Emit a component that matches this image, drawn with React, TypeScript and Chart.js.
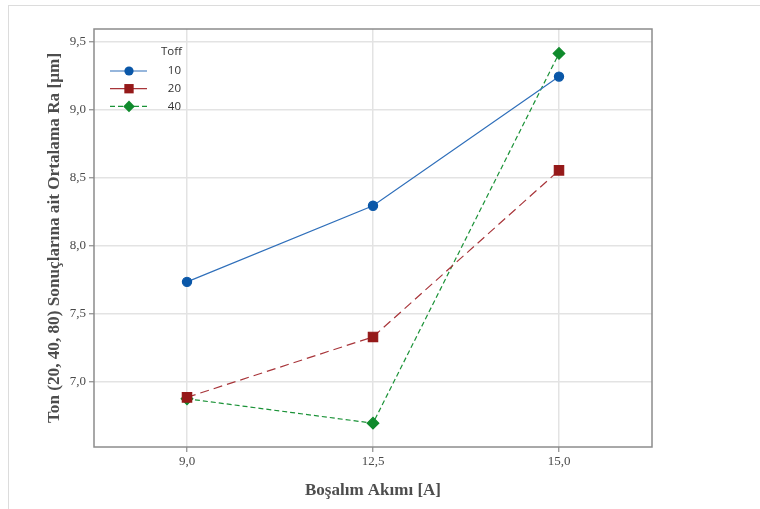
import React, { useEffect, useRef } from 'react';
import { Chart, registerables } from 'chart.js';

Chart.register(...registerables);

const categories = ['9,0', '12,5', '15,0'];
const seriesNames = ['10', '20', '40'];
const toff10 = [7.735, 8.295, 9.245];
const toff20 = [6.885, 7.33, 8.555];
const toff40 = [6.875, 6.695, 9.415];
const yTicks = [7.0, 7.5, 8.0, 8.5, 9.0, 9.5];
const yMin = 6.52;
const yMax = 9.595;
const legendTitle = 'Toff';
const xTitle = 'Boşalım Akımı [A]';
const yTitle = 'Ton (20, 40, 80) Sonuçlarına ait Ortalama Ra [µm]';

const SERIF = '"Liberation Serif", "Times New Roman", serif';
const SANS = '"Open Sans", "Noto Sans", sans-serif';

function drawMarker(ctx: CanvasRenderingContext2D, style: string, x: number, y: number, r: number) {
  ctx.beginPath();
  if (style === 'circle') {
    ctx.arc(x, y, r, 0, Math.PI * 2);
  } else if (style === 'rect') {
    const s = Math.SQRT1_2 * r;
    ctx.rect(x - s, y - s, 2 * s, 2 * s);
  } else {
    ctx.moveTo(x, y - r);
    ctx.lineTo(x + r, y);
    ctx.lineTo(x, y + r);
    ctx.lineTo(x - r, y);
    ctx.closePath();
  }
  ctx.fill();
}

const framePlugin = {
  id: 'frame',
  beforeDatasetsDraw(chart: any) {
    const { ctx, chartArea: a } = chart;
    ctx.save();
    ctx.strokeStyle = '#8c8c8c';
    ctx.lineWidth = 1.5;
    ctx.strokeRect(a.left, a.top, a.right - a.left, a.bottom - a.top);
    ctx.restore();
  },
};

const legendDash: Record<string, number[]> = { circle: [], rect: [16, 5], rectRot: [5, 3] };

const legendPlugin = {
  id: 'insideLegend',
  afterDatasetsDraw(chart: any) {
    const { ctx, chartArea: a } = chart;
    ctx.save();
    ctx.font = '11.5px ' + SANS;
    ctx.fillStyle = '#333333';
    ctx.textAlign = 'right';
    ctx.textBaseline = 'middle';
    ctx.fillText(legendTitle, a.left + 88, a.top + 23);
    chart.data.datasets.forEach((ds: any, i: number) => {
      const y = a.top + 42 + i * 17.7;
      ctx.strokeStyle = ds.borderColor;
      ctx.lineWidth = ds.borderWidth;
      ctx.setLineDash(legendDash[ds.pointStyle] || []);
      ctx.beginPath();
      ctx.moveTo(a.left + 16, y);
      ctx.lineTo(a.left + 53, y);
      ctx.stroke();
      ctx.setLineDash([]);
      ctx.fillStyle = ds.pointBackgroundColor;
      drawMarker(ctx, ds.pointStyle, a.left + 35, y, ds.pointRadius);
      ctx.fillStyle = '#333333';
      ctx.fillText(ds.label, a.left + 87, y);
    });
    ctx.restore();
  },
};

export default function App() {
  const ref = useRef<HTMLCanvasElement>(null);
  useEffect(() => {
    if (!ref.current) return;
    const chart = new Chart(ref.current, {
      type: 'line',
      data: {
        labels: categories,
        datasets: [
          {
            label: seriesNames[0],
            data: toff10,
            borderColor: '#2f6fba',
            backgroundColor: '#0a57a8',
            pointBackgroundColor: '#0a57a8',
            pointBorderColor: '#0a57a8',
            pointStyle: 'circle',
            pointRadius: 4.6,
            borderWidth: 1.2,
            tension: 0,
          },
          {
            label: seriesNames[1],
            data: toff20,
            borderColor: '#a8353a',
            backgroundColor: '#951919',
            pointBackgroundColor: '#951919',
            pointBorderColor: '#951919',
            pointStyle: 'rect',
            pointRadius: 6.6,
            borderWidth: 1.2,
            borderDash: [9, 5],
            tension: 0,
          },
          {
            label: seriesNames[2],
            data: toff40,
            borderColor: '#1a9237',
            backgroundColor: '#0f8a2c',
            pointBackgroundColor: '#0f8a2c',
            pointBorderColor: '#0f8a2c',
            pointStyle: 'rectRot',
            pointRadius: 5.8,
            borderWidth: 1.2,
            borderDash: [5, 3],
            tension: 0,
          },
        ] as any,
      },
      options: {
        animation: false,
        responsive: false,
        layout: { padding: { left: 0, top: 29, right: 108, bottom: 0 } },
        plugins: {
          legend: { display: false },
          tooltip: { enabled: false },
        },
        scales: {
          x: {
            type: 'category',
            offset: true,
            border: { display: false },
            grid: {
              offset: false,
              color: '#e3e3e3',
              lineWidth: 1.5,
              drawTicks: true,
              tickLength: 5,
              tickColor: '#8c8c8c',
              tickWidth: 1.2,
            },
            ticks: {
              color: '#4a4a4a',
              font: { family: SERIF, size: 13 },
              padding: 2,
              maxRotation: 0,
            },
            title: {
              display: true,
              text: xTitle,
              color: '#4d4d4d',
              font: { family: SERIF, size: 17, weight: 'bold' },
              padding: { top: 0, bottom: 8 },
            },
            afterFit: (s: any) => {
              s.height = 62;
            },
          },
          y: {
            type: 'linear',
            min: yMin,
            max: yMax,
            border: { display: false },
            grid: {
              color: '#e3e3e3',
              lineWidth: 1.5,
              drawTicks: true,
              tickLength: 5,
              tickColor: '#8c8c8c',
              tickWidth: 1.2,
            },
            afterBuildTicks: (s: any) => {
              s.ticks = yTicks.map((v) => ({ value: v }));
            },
            ticks: {
              color: '#4a4a4a',
              font: { family: SERIF, size: 13 },
              padding: 3,
              callback: (v: any) => Number(v).toFixed(1).replace('.', ','),
            },
            title: {
              display: true,
              text: yTitle,
              color: '#4d4d4d',
              font: { family: SERIF, size: 17.2, weight: 'bold' },
              padding: { top: 44, bottom: 0 },
            },
            afterFit: (s: any) => {
              s.width = 94;
            },
          },
        },
      },
      plugins: [framePlugin, legendPlugin],
    });
    return () => chart.destroy();
  }, []);

  return (
    <div style={{ position: 'fixed', left: 0, top: 0, width: 760, height: 509, background: '#ffffff' }}>
      <div
        style={{
          position: 'absolute',
          left: 8,
          top: 5,
          right: 0,
          bottom: 0,
          borderTop: '1px solid #dcdcdc',
          borderLeft: '1px solid #dcdcdc',
        }}
      />
      <canvas ref={ref} width={760} height={509} style={{ position: 'absolute', left: 0, top: 0 }} />
    </div>
  );
}
